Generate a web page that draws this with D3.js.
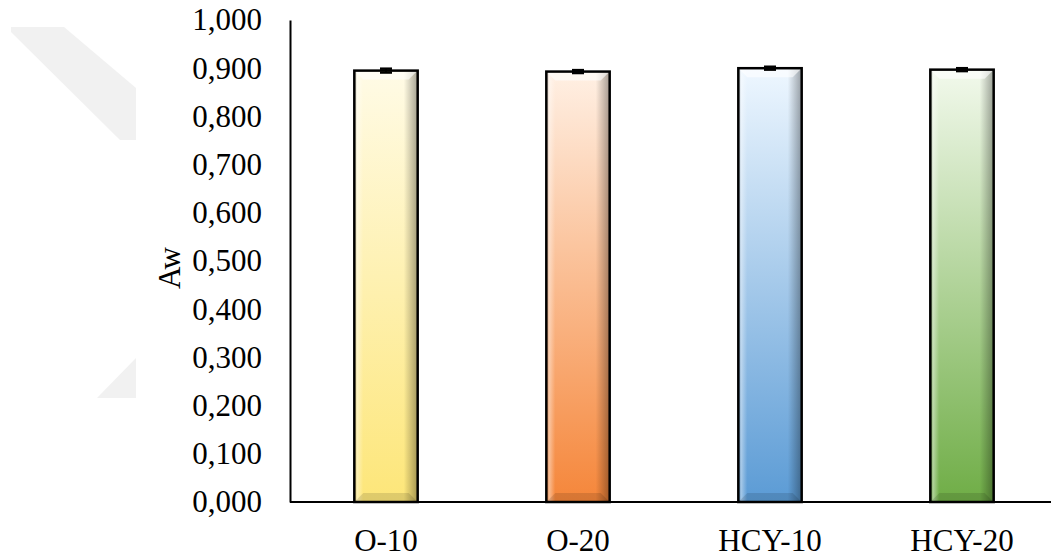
<!DOCTYPE html>
<html><head><meta charset="utf-8">
<script src="https://cdn.jsdelivr.net/npm/d3@7"></script>
<style>body{margin:0;background:#fff}svg{display:block}</style>
</head><body>
<svg id="c" width="1051" height="560"></svg>
<script>
const categories = ["O-10", "O-20", "HCY-10", "HCY-20"];
const values = [0.895, 0.893, 0.900, 0.897];
const errors = [0.004, 0.003, 0.003, 0.003];
const yTicks = [0, 0.1, 0.2, 0.3, 0.4, 0.5, 0.6, 0.7, 0.8, 0.9, 1.0];
const topColors = ["#fffbe6", "#fff0e4", "#eef7ff", "#f2f9ec"];
const bottomColors = ["#fde679", "#f5863a", "#5b9bd5", "#6fad46"];
const yTitle = "Aw";

const svg = d3.select("#c");
const font = "'Liberation Serif','Times New Roman',serif";
const fs = 31;
const m = {left: 290, right: 1058, top: 20, bottom: 502};

svg.append("polygon").attr("points", "11,27 64,27 136,88 136,140 120,140 11,32").attr("fill", "#f1f1f1");
svg.append("polygon").attr("points", "136,358 97,398 136,398").attr("fill", "#f1f1f1");

const x = d3.scaleBand().domain(categories).range([m.left, m.right]).paddingInner(0.67).paddingOuter(0.335);
const y = d3.scaleLinear().domain([0, 1]).range([m.bottom, m.top]);

const defs = svg.append("defs");
categories.forEach((c, i) => {
  const g = defs.append("linearGradient").attr("id", "g" + i).attr("x1", 0).attr("y1", 0).attr("x2", 0).attr("y2", 1);
  g.append("stop").attr("offset", "0%").attr("stop-color", topColors[i]);
  g.append("stop").attr("offset", "100%").attr("stop-color", bottomColors[i]);
});
const sh = defs.append("linearGradient").attr("id", "shade").attr("x1", 0).attr("y1", 0).attr("x2", 1).attr("y2", 0);
sh.append("stop").attr("offset", "0%").attr("stop-color", "#000").attr("stop-opacity", 0.15);
sh.append("stop").attr("offset", "4%").attr("stop-color", "#fff").attr("stop-opacity", 0.45);
sh.append("stop").attr("offset", "14%").attr("stop-color", "#fff").attr("stop-opacity", 0);
sh.append("stop").attr("offset", "78%").attr("stop-color", "#000").attr("stop-opacity", 0);
sh.append("stop").attr("offset", "100%").attr("stop-color", "#000").attr("stop-opacity", 0.35);

const bw = x.bandwidth();
const bars = svg.append("g").selectAll("g").data(categories).join("g");
bars.each(function(c, i) {
  const g = d3.select(this);
  const x0 = x(c), x1 = x0 + bw, y0 = y(values[i]), y1 = y(0);
  const b = 9;
  g.append("rect").attr("x", x0).attr("y", y0).attr("width", bw).attr("height", y1 - y0).attr("fill", "url(#g" + i + ")");
  g.append("rect").attr("x", x0).attr("y", y0).attr("width", bw).attr("height", y1 - y0).attr("fill", "url(#shade)");
  g.append("polygon").attr("points", [[x0, y0], [x1, y0], [x1 - b, y0 + b], [x0 + b, y0 + b]].join(" "))
    .attr("fill", "#fff").attr("opacity", 0.6);
  g.append("polygon").attr("points", [[x0, y1], [x1, y1], [x1 - b, y1 - b], [x0 + b, y1 - b]].join(" "))
    .attr("fill", "#000").attr("opacity", 0.12);
  g.append("rect").attr("x", x0).attr("y", y0).attr("width", bw).attr("height", y1 - y0)
    .attr("fill", "none").attr("stroke", "#000").attr("stroke-width", 2.5);
  const cx = x0 + bw / 2, eh = y(values[i] - errors[i]), el = y(values[i] + errors[i]);
  g.append("line").attr("x1", cx).attr("x2", cx).attr("y1", el).attr("y2", eh).attr("stroke", "#000").attr("stroke-width", 2);
  [el, eh].forEach(v => g.append("line").attr("x1", cx - 6).attr("x2", cx + 6).attr("y1", v).attr("y2", v).attr("stroke", "#000").attr("stroke-width", 2.5));
});

const fmt = d => d3.format(".3f")(d).replace(".", ",");
const ya = svg.append("g").attr("transform", `translate(${m.left},0)`)
  .call(d3.axisLeft(y).tickValues(yTicks).tickFormat(fmt).tickSize(0).tickPadding(28));
ya.select(".domain").attr("stroke", "#000").attr("stroke-width", 2);
ya.selectAll("text").attr("font-family", font).attr("font-size", fs).attr("font-weight", "normal").attr("fill", "#000");

const xa = svg.append("g").attr("transform", `translate(0,${m.bottom})`)
  .call(d3.axisBottom(x).tickSize(0).tickPadding(27));
xa.select(".domain").attr("d", `M${m.left},0H1051`).attr("stroke", "#000").attr("stroke-width", 2);
xa.selectAll("text").attr("font-family", font).attr("font-size", fs).attr("font-weight", "normal").attr("fill", "#000");

svg.append("text").attr("transform", "translate(180,268) rotate(-90)").attr("text-anchor", "middle")
  .attr("font-family", font).attr("font-size", fs).text(yTitle);
</script>
</body></html>
